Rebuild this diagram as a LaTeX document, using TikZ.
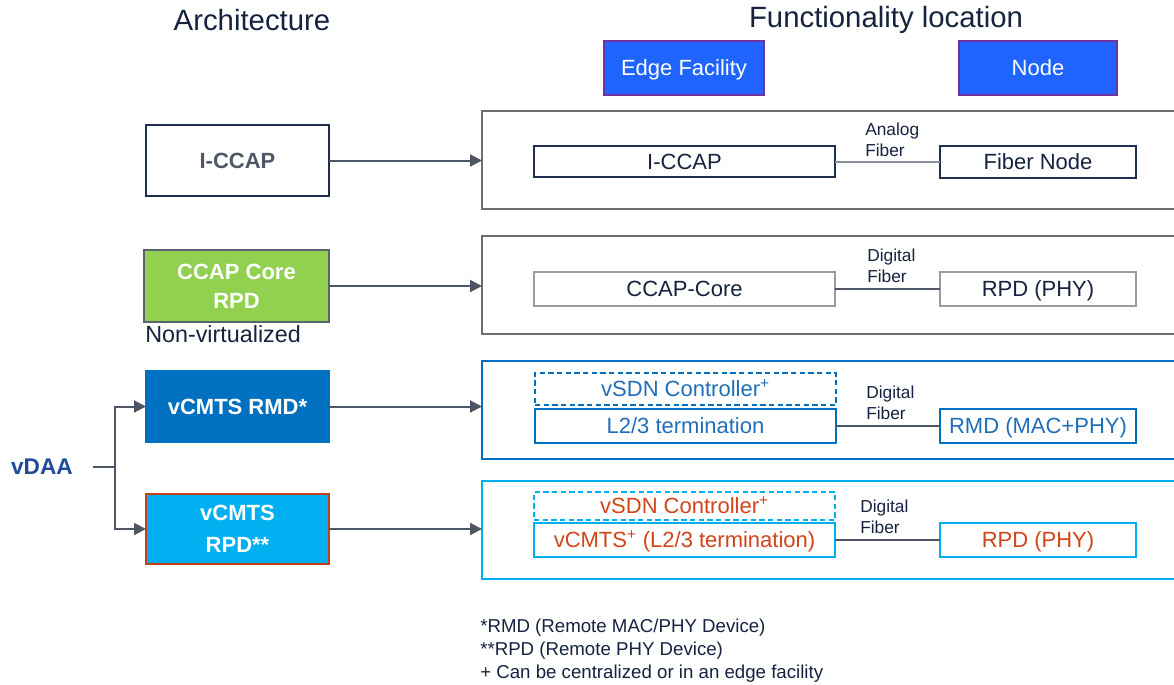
\documentclass[tikz,border=0pt]{standalone}
\usepackage{fontspec}
\setmainfont{Liberation Sans}
\usetikzlibrary{arrows.meta}
\definecolor{titlec}{HTML}{16223F}
\definecolor{navy}{HTML}{1F2E4F}
\definecolor{arrc}{HTML}{4F5663}
\definecolor{hdrblue}{HTML}{1F64FF}
\definecolor{hdrborder}{HTML}{7030A0}
\definecolor{greenf}{HTML}{92D050}
\definecolor{greenb}{HTML}{5B6270}
\definecolor{bluef}{HTML}{0070C0}
\definecolor{cyanf}{HTML}{00B0F0}
\definecolor{redb}{HTML}{C43E1C}
\definecolor{graytxt}{HTML}{4F5866}
\definecolor{grayb}{HTML}{6E6E6E}
\definecolor{lgrayb}{HTML}{9C9C9C}
\definecolor{linkgray}{HTML}{8A8F99}
\definecolor{bluetxt}{HTML}{1F6FBA}
\definecolor{orangetxt}{HTML}{D24419}
\definecolor{vdaac}{HTML}{1F4B97}
\newcommand{\fsz}[2]{\fontsize{#1}{#2}\selectfont}
\begin{document}
\begin{tikzpicture}[x=0.75pt,y=-0.75pt,
  sz/.style 2 args={minimum width=#1*0.75pt, minimum height=#2*0.75pt},
  bx/.style={inner sep=0pt, outer sep=0pt, draw, line width=1.5pt, rectangle},
  capc/.style={text height=11.9pt, text depth=0pt},
  hdr/.style={bx, capc, draw=hdrborder, line width=1pt, fill=hdrblue, text=white, font=\fsz{16.5}{20}},
  inner/.style={bx, capc, font=\fsz{16.5}{20}},
  leftbox/.style={bx, text=white, align=center, font=\bfseries\fsz{16.5}{22}},
  outerbox/.style={bx, line width=1.3pt},
  arr/.style={draw=arrc, line width=1.5pt, -{Triangle[length=9pt,width=9pt]}},
  link/.style={draw=arrc, line width=1.5pt},
  lbl/.style={font=\fsz{13}{16}, text=titlec, align=left, inner sep=0pt, anchor=west},
  dashbox/.style={inner, dash pattern=on 4pt off 2.5pt, line width=1.3pt}
]
\useasboundingbox (0,0) rectangle (1174,685);
\fill[white] (0,0) rectangle (1174,685);

% titles
\node[font=\fsz{22}{26}, text=titlec] (arch) at (252,20) {Architecture};
\node[font=\fsz{22}{26}, text=titlec] (func) at (886,20) {Functionality location};
\node[hdr, sz={160}{54}] (edge) at (684,68) {Edge Facility};
\node[hdr, sz={158}{54}] (nodeh) at (1038,68) {Node};

% row 1
\node[bx, capc, draw=navy, text=graytxt, font=\bfseries\fsz{16.5}{20}, sz={183}{71}] (l1) at (237.5,160.5) {I-CCAP};
\node[outerbox, draw=grayb, sz={708}{98}] (o1) at (836,160) {};
\node[inner, draw=navy, text=titlec, sz={301}{31}] (a1) at (684.5,161.5) {I-CCAP};
\node[inner, draw=navy, text=titlec, sz={196}{32}] (b1) at (1038,162) {Fiber Node};
\draw[link, draw=linkgray] (a1.east) -- (a1.east -| b1.west);
\node[lbl] (t1) at (865,139.5) {Analog\\Fiber};
\draw[arr] (l1.east) -- (l1.east -| o1.west);

% row 2
\node[leftbox, draw=greenb, fill=greenf, sz={185}{72}] (l2) at (236.5,286) {CCAP Core\\RPD};
\node[anchor=west, font=\fsz{17.5}{20}, text=titlec, inner sep=0pt] (nv) at (145,334) {Non-virtualized};
\node[outerbox, draw=grayb, sz={708}{98}] (o2) at (836,285) {};
\node[inner, draw=lgrayb, text=titlec, sz={301}{34}] (a2) at (684.5,289) {CCAP-Core};
\node[inner, draw=lgrayb, text=titlec, sz={196}{34}] (b2) at (1038,289) {RPD (PHY)};
\draw[link] (a2.east) -- (a2.east -| b2.west);
\node[lbl] (t2) at (867,265.5) {Digital\\Fiber};
\draw[arr] (l2.east) -- (l2.east -| o2.west);

% row 3
\node[leftbox, capc, draw=bluef, fill=bluef, sz={183}{71}] (l3) at (237.5,406.5) {vCMTS RMD*};
\node[outerbox, draw=bluef, sz={708}{98}] (o3) at (836,410) {};
\node[dashbox, draw=bluef, text=bluetxt, sz={301}{32}] (c3) at (685.5,389) {vSDN Controller\textsuperscript{+}};
\node[inner, draw=bluef, text=bluetxt, sz={301}{34}] (a3) at (685.5,426) {L2/3 termination};
\node[inner, draw=bluef, text=bluetxt, sz={196}{34}] (b3) at (1038,426) {RMD (MAC+PHY)};
\draw[link] (a3.east) -- (a3.east -| b3.west);
\node[lbl] (t3) at (866,403) {Digital\\Fiber};
\draw[arr] (l3.east) -- (l3.east -| o3.west);

% row 4
\node[leftbox, draw=redb, fill=cyanf, sz={183}{70}, font=\bfseries\fsz{16.5}{24}] (l4) at (237.5,529) {vCMTS\\RPD**};
\node[outerbox, draw=cyanf, sz={708}{98}] (o4) at (836,530) {};
\node[dashbox, draw=cyanf, text=orangetxt, sz={301}{28}] (c4) at (684.5,506) {vSDN Controller\textsuperscript{+}};
\node[inner, draw=cyanf, text=orangetxt, sz={301}{34}] (a4) at (684.5,540) {vCMTS\textsuperscript{+} (L2/3 termination)};
\node[inner, draw=cyanf, text=orangetxt, sz={196}{34}] (b4) at (1038,540) {RPD (PHY)};
\draw[link] (a4.east) -- (a4.east -| b4.west);
\node[lbl] (t4) at (860,516.5) {Digital\\Fiber};
\draw[arr] (l4.east) -- (l4.east -| o4.west);

% vDAA
\node[font=\bfseries\fsz{17}{20}, text=vdaac] (vdaa) at (42,467) {vDAA};
\coordinate (vs) at (93,467);
\coordinate (vj) at (115,467);
\draw[link] (vs) -- (vj);
\draw[arr] (vj) |- (l3.west);
\draw[arr] (vj) |- (l4.west);

% footnotes
\node[anchor=north west, align=left, font=\fsz{14}{17.25}, text=titlec, inner sep=0pt] (fn) at (480,619)
 {*RMD (Remote MAC/PHY Device)\\**RPD (Remote PHY Device)\\+ Can be centralized or in an edge facility};
\end{tikzpicture}
\end{document}
